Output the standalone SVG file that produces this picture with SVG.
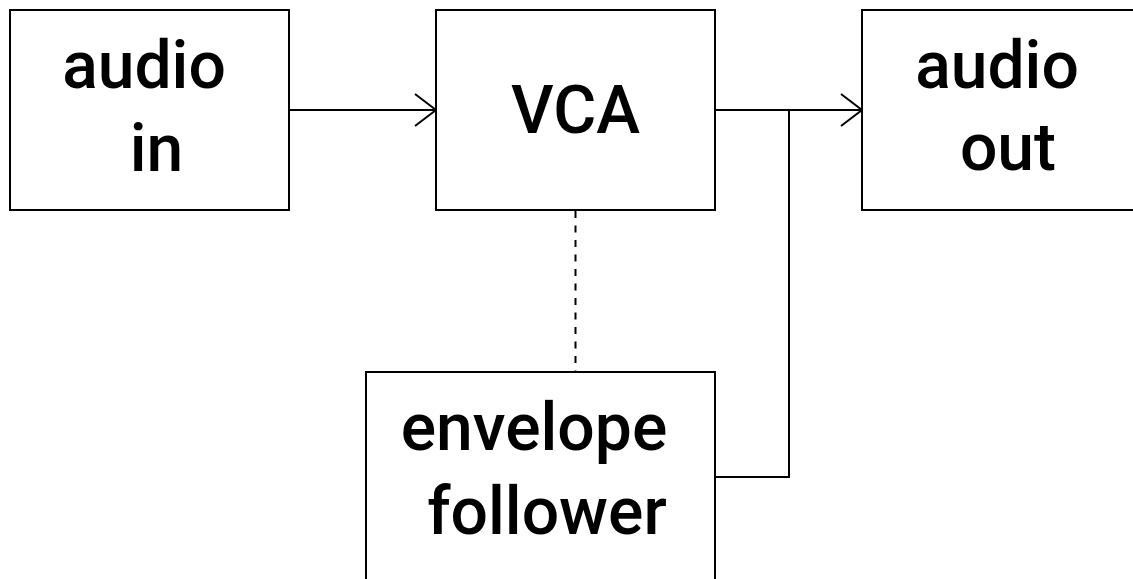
<svg xmlns="http://www.w3.org/2000/svg" width="1133" height="579" viewBox="0 0 1133 579">
<style>
.box{fill:#fff;stroke:#000;stroke-width:2}
.lbl{font-family:Roboto,"Noto Sans","DejaVu Sans",sans-serif;font-weight:500;font-size:66px;fill:#000;text-anchor:middle}
.con{fill:none;stroke:#000;stroke-width:2}
</style>
<rect width="1133" height="579" fill="#fff"/>
<g id="connectors">
<path class="con" d="M289,110 H436"/>
<path class="con" d="M415,94 L436,110 L415,126"/>
<path class="con" d="M715,110 H862"/>
<path class="con" d="M841,94 L862,110 L841,126"/>
<path class="con" d="M715,477 H789 V110"/>
<path class="con" d="M575.5,211 V372" stroke-dasharray="7 7.5"/>
</g>
<g id="audio-in">
<rect class="box" x="10" y="10" width="279" height="200"/>
<text class="lbl"><tspan x="144" y="88">audio</tspan><tspan x="156.5" y="171">in</tspan></text>
</g>
<g id="vca">
<rect class="box" x="436" y="10" width="279" height="200"/>
<text class="lbl" x="575.5" y="133">VCA</text>
</g>
<g id="audio-out">
<rect class="box" x="862" y="10" width="279" height="200"/>
<text class="lbl"><tspan x="997" y="88">audio</tspan><tspan x="1008" y="170">out</tspan></text>
</g>
<g id="envelope-follower">
<rect class="box" x="366" y="372" width="349" height="220"/>
<text class="lbl"><tspan x="534" y="450">envelope</tspan><tspan x="547" y="534">follower</tspan></text>
</g>
</svg>
